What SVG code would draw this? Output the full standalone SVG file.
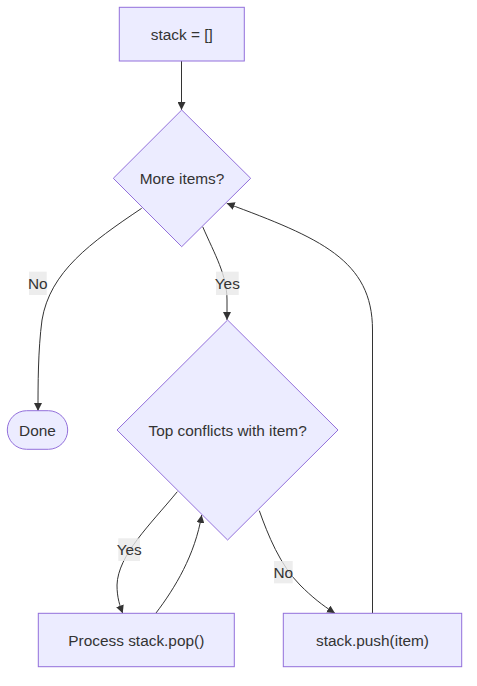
<svg xmlns="http://www.w3.org/2000/svg" width="477" height="686" viewBox="0 0 477 686">
<style>
.node{fill:#ECECFF;stroke:#9370DB;stroke-width:1px;}
.lbl{font-family:"Liberation Sans",Arial,sans-serif;font-size:15.4px;fill:#333333;text-anchor:middle;dominant-baseline:central;}
.edge{fill:none;stroke:#333333;stroke-width:1px;}
.ebg{fill:#e8e8e8;opacity:0.8;}
</style>
<defs>
<marker id="arrow" viewBox="0 0 10 10" refX="10" refY="5" markerWidth="8" markerHeight="8" markerUnits="userSpaceOnUse" orient="auto">
<path d="M0,0 L10,5 L0,10 z" fill="#333333"/>
</marker>
</defs>
<rect width="477" height="686" fill="#ffffff"/>
<g id="connectors">
<path class="edge" d="M181.5,61 L181.5,110" marker-end="url(#arrow)"/>
<path class="edge" d="M141.7,208.3 C90,243 50,272 42,320 C38,350 38,385 38,411" marker-end="url(#arrow)"/>
<path class="edge" d="M202.7,226.7 C215,255 227,275 227,300 L227,320" marker-end="url(#arrow)"/>
<path class="edge" d="M177.3,491.7 C150,525 118,555 117,585 C117,598 120,606 122.7,613.3" marker-end="url(#arrow)"/>
<path class="edge" d="M156,613 C175,588 195,555 201.7,515" marker-end="url(#arrow)"/>
<path class="edge" d="M259.3,510.7 C268,535 280,565 300,585 C312,597 322,605 335,613.3" marker-end="url(#arrow)"/>
<path class="edge" d="M372.5,613 L372.5,330 C372.5,260 320,238 226.7,203.3" marker-end="url(#arrow)"/>
</g>
<g id="edge-labels">
<g id="label-no-1"><rect class="ebg" x="29" y="271.7" width="17.7" height="23.3"/><text class="lbl" x="37.8" y="283.3">No</text></g>
<g id="label-yes-1"><rect class="ebg" x="216" y="271.7" width="22.7" height="23.3"/><text class="lbl" x="227.3" y="283.3">Yes</text></g>
<g id="label-yes-2"><rect class="ebg" x="118.3" y="538.3" width="21.7" height="22.7"/><text class="lbl" x="129.2" y="549.7">Yes</text></g>
<g id="label-no-2"><rect class="ebg" x="274" y="561" width="18.7" height="22.3"/><text class="lbl" x="283.3" y="572.2">No</text></g>
</g>
<g id="node-init">
<rect class="node" x="119.3" y="7.3" width="125" height="53.7"/>
<text class="lbl" x="181.8" y="34.2">stack = []</text>
</g>
<g id="node-more">
<polygon class="node" points="181.7,110 250.7,178.3 181.7,246.7 113.3,178.3"/>
<text class="lbl" x="182" y="178.3">More items?</text>
</g>
<g id="node-done">
<rect class="node" x="7.3" y="410.7" width="60.4" height="38.6" rx="19.3" ry="19.3"/>
<text class="lbl" x="37.5" y="430">Done</text>
</g>
<g id="node-conflict">
<polygon class="node" points="227.6,320 338,430 227.6,540 117,430"/>
<text class="lbl" x="227.6" y="430">Top conflicts with item?</text>
</g>
<g id="node-pop">
<rect class="node" x="38.3" y="613.3" width="196" height="53.4"/>
<text class="lbl" x="136.3" y="640">Process stack.pop()</text>
</g>
<g id="node-push">
<rect class="node" x="283.3" y="613.3" width="178.4" height="53.4"/>
<text class="lbl" x="372.5" y="640">stack.push(item)</text>
</g>
</svg>
